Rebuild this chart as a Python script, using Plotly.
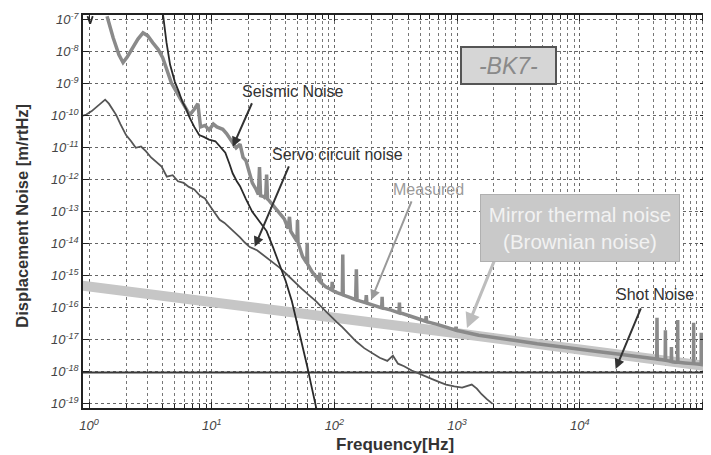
import plotly.graph_objects as go

# ---------------- data ----------------
thermal_f = [0.85, 10, 100, 1000, 10000, 110000]
thermal_y = [5.0e-16, 1.6e-16, 5.0e-17, 1.6e-17, 5.0e-18, 1.5e-18]

shot_f = [0.85, 110000]
shot_y = [9.5e-19, 9.5e-19]

meas_f = [1.40, 1.57, 1.75, 1.89, 2.05, 2.28, 2.5, 2.75, 3.0, 3.31, 3.65, 3.98, 4.3, 4.68,
          5.1, 5.5, 6.0, 6.6, 7.2, 7.7, 8.1, 8.8, 9.5, 10.3, 11.0, 12.3, 13.2, 14.0, 15.8,
          17.0, 18.0, 19.0, 20.2, 21.4, 23.0, 24.0, 24.5, 25.0, 26.5, 27.5, 28.0, 28.5, 29.5,
          32, 35.5, 39, 42, 43, 44, 47, 49.5, 50, 50.5, 55, 59.5, 60, 60.5, 66, 75.5, 76,
          76.5, 85, 95, 96, 97, 105, 116, 117, 118, 130, 149, 151, 153, 165, 180, 182, 184,
          210, 243, 245, 247, 290, 336, 339, 342, 450, 555, 560, 565, 700, 975, 980, 985,
          1500, 2200, 3000, 4500, 7000, 10000, 15000, 22000, 30000, 38000, 42500, 42700,
          42900, 47000, 49800, 50000, 50200, 53000, 55800, 56000, 56200, 60000, 62800,
          63000, 63200, 72000, 84800, 85000, 85200, 92000, 97800, 98000, 98200, 100000]
meas_y = [1.3e-7, 2.75e-8, 8e-9, 4.6e-9, 7e-9, 1.45e-8, 2.5e-8, 3.9e-8, 3.2e-8, 1.9e-8,
          1.2e-8, 6.5e-9, 2.8e-9, 1.07e-9, 6e-10, 3.6e-10, 2.2e-10, 1.07e-10, 1.6e-10,
          2.4e-10, 4.5e-11, 5e-11, 3.6e-11, 5.5e-11, 4.5e-11, 3.8e-11, 2.8e-11, 2.0e-11,
          1.0e-11, 1.3e-11, 5e-12, 4e-12, 1.6e-12, 8e-13, 5e-13, 3.5e-13, 2.5e-12, 3.2e-13,
          3e-13, 2.6e-13, 1.45e-12, 2.5e-13, 2.2e-13, 1.5e-13, 1.0e-13, 6e-14, 3e-14, 7e-14,
          2.5e-14, 1.6e-14, 1.2e-14, 5.5e-14, 1.1e-14, 4e-15, 2.5e-15, 1.07e-14, 2.3e-15,
          1.3e-15, 7e-16, 1.26e-15, 6.5e-16, 4.5e-16, 3.6e-16, 6.5e-16, 3.5e-16, 3e-16,
          2.6e-16, 4.6e-15, 2.5e-16, 2.2e-16, 1.8e-16, 1.6e-15, 1.75e-16, 1.6e-16, 1.45e-16,
          2.5e-16, 1.4e-16, 1.2e-16, 1.0e-16, 2.2e-16, 1.0e-16, 8.5e-17, 7e-17, 1.45e-16,
          7e-17, 5e-17, 3.8e-17, 5.5e-17, 3.7e-17, 3e-17, 2.0e-17, 2.6e-17, 2.0e-17,
          1.4e-17, 1.1e-17, 9.5e-18, 7.5e-18, 6.2e-18, 5.2e-18, 4.2e-18, 3.5e-18, 3e-18,
          2.6e-18, 2.5e-18, 4.9e-17, 2.5e-18, 2.4e-18, 2.3e-18, 2.0e-17, 2.3e-18, 2.2e-18,
          2.1e-18, 6e-18, 2.1e-18, 2.0e-18, 2.0e-18, 4.2e-17, 2.0e-18, 1.9e-18, 1.8e-18,
          3.4e-17, 1.8e-18, 1.75e-18, 1.7e-18, 1.66e-17, 1.7e-18, 1.7e-18]

servo_f = [0.85, 0.95, 1.05, 1.15, 1.25, 1.35, 1.45, 1.55, 1.66, 1.8, 2.0, 2.2, 2.4, 2.65,
           2.9, 3.2, 3.5, 3.9, 4.3, 4.8, 5.3, 5.9, 6.5, 7.2, 8.0, 8.8, 9.7, 10.6, 11.6, 12.7,
           14.0, 15.5, 17.0, 18.6, 20.4, 23.4, 27, 31, 35.7, 41, 47, 54, 62, 71, 82, 95, 105,
           116, 130, 150, 175, 200, 234, 270, 300, 330, 370, 427, 480, 540, 620, 720, 813,
           950, 1100, 1200, 1318, 1450, 1585, 1750, 1905, 1950]
servo_y = [9.5e-11, 1.1e-10, 1.4e-10, 1.9e-10, 2.6e-10, 3.2e-10, 2.4e-10, 1.6e-10, 1.07e-10,
           5.5e-11, 2.5e-11, 1.6e-11, 1.0e-11, 1.1e-11, 7.9e-12, 5e-12, 3.6e-12, 2.6e-12,
           1.26e-12, 1.4e-12, 9e-13, 8e-13, 6e-13, 5e-13, 3.2e-13, 2.6e-13, 1.5e-13, 9e-14,
           5.6e-14, 4.5e-14, 3.2e-14, 2.2e-14, 1.6e-14, 1.1e-14, 7.9e-15, 6.3e-15, 4.2e-15,
           2.8e-15, 1.8e-15, 1.1e-15, 6.5e-16, 4e-16, 2.5e-16, 1.6e-16, 9e-17, 5e-17, 3.5e-17,
           2.5e-17, 1.6e-17, 9e-18, 5.5e-18, 4e-18, 2.75e-18, 2.2e-18, 3.2e-18, 1.8e-18,
           1.5e-18, 1.1e-18, 9e-19, 7.5e-19, 6e-19, 4.8e-19, 4e-19, 3.5e-19, 3.2e-19, 3.6e-19,
           4e-19, 3e-19, 2e-19, 1.4e-19, 1.1e-19, 1.0e-19]

seis_f = [0.97, 1.02, 1.07, None, 4.0, 4.27, 4.57, 5.0, 5.4, 5.75, 6.2, 6.6, 7.2, 7.9, 8.6,
          9.5, 10.7, 11.8, 12.9, 14.0, 14.8, 16.0, 17.0, 19.0, 21.4, 24.5, 28, 31.5, 35.5,
          40, 45, 50, 55, 60, 64.6, 72]
seis_y = [1.3e-7, 7.5e-8, 1.3e-7, None, 1.5e-7, 2e-8, 4e-9, 1.15e-9, 5.5e-10, 2.75e-10,
          1.6e-10, 8.7e-11, 4.5e-11, 2.5e-11, 2.2e-11, 1.8e-11, 1.6e-11, 1e-11, 7e-12, 3e-12,
          1.6e-12, 9e-13, 6.3e-13, 2.5e-13, 1.0e-13, 5e-14, 2.5e-14, 8e-15, 2.5e-15, 7e-16,
          1.6e-16, 3e-17, 6e-18, 1.5e-18, 4e-19, 6e-20]

x_tickvals = [1, 10, 100, 1000, 10000, 100000]
x_ticktext = ["10<sup>%d</sup>" % i for i in range(0, 6)]
y_tickvals = [10.0 ** (-k) for k in range(7, 20)]
y_ticktext = ["10<sup>-%d</sup>" % k for k in range(7, 20)]

FONT = "Liberation Sans, Arial, Helvetica, sans-serif"

fig = go.Figure()
fig.add_trace(go.Scatter(x=thermal_f, y=thermal_y, mode="lines",
                         line=dict(color="#c6c6c6", width=10), hoverinfo="skip"))
fig.add_trace(go.Scatter(x=shot_f, y=shot_y, mode="lines",
                         line=dict(color="#3a3a3a", width=2), hoverinfo="skip"))
fig.add_trace(go.Scatter(x=meas_f, y=meas_y, mode="lines",
                         line=dict(color="#8a8a8a", width=3.5), hoverinfo="skip"))
fig.add_trace(go.Scatter(x=servo_f, y=servo_y, mode="lines",
                         line=dict(color="#555555", width=1.8), hoverinfo="skip"))
fig.add_trace(go.Scatter(x=seis_f, y=seis_y, mode="lines", connectgaps=False,
                         line=dict(color="#2a2a2a", width=1.8), hoverinfo="skip"))

grid = dict(showgrid=True, gridcolor="#666666", griddash="dot", gridwidth=1)
fig.update_xaxes(type="log", range=[-0.05, 5.03], tickmode="array",
                 tickvals=x_tickvals, ticktext=x_ticktext,
                 tickfont=dict(family=FONT, size=13, color="#444", style="italic"),
                 ticks="inside", ticklen=6, tickcolor="#222", ticklabelstandoff=5,
                 showline=True, linecolor="#222", linewidth=1.5, mirror="ticks",
                 zeroline=False,
                 minor=dict(dtick="D1", ticks="inside", ticklen=4, tickcolor="#222",
                            showgrid=True, gridcolor="#777777", griddash="dot", gridwidth=1),
                 **grid)
fig.update_yaxes(type="log", range=[-19.13, -6.85], tickmode="array",
                 tickvals=y_tickvals, ticktext=y_ticktext,
                 tickfont=dict(family=FONT, size=13, color="#444", style="italic"),
                 ticks="inside", ticklen=6, tickcolor="#222",
                 showline=True, linecolor="#222", linewidth=1.5, mirror="ticks",
                 zeroline=False, **grid)

ann = []
# axis titles
ann.append(dict(text="<b>Frequency[Hz]</b>", xref="paper", yref="paper", x=0.5, y=-0.094,
                xanchor="center", yanchor="middle", showarrow=False,
                font=dict(family=FONT, size=17, color="#333")))
ann.append(dict(text="<b>Displacement Noise [m/rtHz]</b>", xref="paper", yref="paper",
                x=-0.0976, y=0.49, textangle=-90, xanchor="center", yanchor="middle",
                showarrow=False, font=dict(family=FONT, size=16.5, color="#333")))

def arrow(tip, tail, color, width, size):
    return dict(text="", x=tip[0], y=tip[1], ax=tail[0], ay=tail[1], xref="x", yref="y",
                axref="x", ayref="y", showarrow=True, arrowhead=2, arrowsize=size,
                arrowwidth=width, arrowcolor=color)

def label(txt, pos, color, size=16, **kw):
    d = dict(text=txt, x=pos[0], y=pos[1], xref="x", yref="y", showarrow=False,
             xanchor="center", yanchor="middle",
             font=dict(family=FONT, size=size, color=color))
    d.update(kw)
    return d

ann.append(arrow((1.171, -10.97), (1.333, -9.56), "#333", 2, 1.0))
ann.append(label("Seismic Noise", (1.659, -9.25), "#333"))
ann.append(arrow((1.350, -14.09), (1.634, -11.53), "#333", 2, 1.0))
ann.append(label("Servo circuit noise", (2.024, -11.22), "#333"))
ann.append(arrow((2.301, -15.75), (2.634, -12.63), "#9a9a9a", 2, 1.0))
ann.append(label("Measured", (2.764, -12.31), "#9a9a9a"))
ann.append(arrow((3.081, -16.63), (3.317, -14.41), "#bdbdbd", 3, 1.0))
ann.append(label("Mirror thermal noise<br>(Brownian noise)", (4.0, -13.52), "#f2f2f2",
                 size=20.5, bgcolor="#c9c9c9", bordercolor="#b0b0b0", borderwidth=1,
                 width=196, height=64))
ann.append(arrow((4.293, -17.91), (4.504, -15.97), "#333", 2, 1.0))
ann.append(label("Shot Noise", (4.618, -15.59), "#333"))
ann.append(label("<i>-BK7-</i>", (3.423, -8.44), "#8a8a8a", size=23,
                 bgcolor="#d6d6d6", bordercolor="#555", borderwidth=2,
                 width=91, height=33))

# the page body adds an 8 px margin, so the figure is 8 px smaller and shifted
fig.update_layout(width=703, height=447, margin=dict(l=75, r=3, t=7, b=47),
                  paper_bgcolor="white", plot_bgcolor="white", showlegend=False,
                  annotations=ann)

fig.write_html("out.html")
